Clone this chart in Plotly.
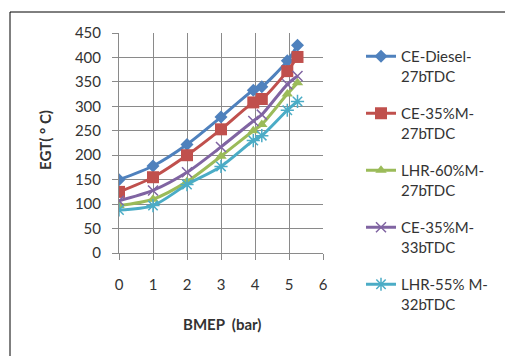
import plotly.graph_objects as go

bmep = [0, 1, 2, 3, 3.95, 4.2, 4.95, 5.25]
ce_diesel_27 = [150, 178, 222, 278, 333, 340, 393, 425]
ce_35m_27 = [125, 155, 200, 253, 308, 315, 372, 401]
lhr_60m_27 = [97, 110, 146, 198, 250, 263, 325, 348]
ce_35m_33 = [107, 128, 165, 217, 270, 283, 345, 362]
lhr_55m_32 = [88, 97, 140, 177, 230, 240, 292, 310]

names = ["CE-Diesel-<br>27bTDC", "CE-35%M-<br>27bTDC", "LHR-60%M-<br>27bTDC",
         "CE-35%M-<br>33bTDC", "LHR-55% M-<br>32bTDC"]
series = [ce_diesel_27, ce_35m_27, lhr_60m_27, ce_35m_33, lhr_55m_32]
colors = ["#4F81BD", "#C0504D", "#9BBB59", "#8064A2", "#4BACC6"]
symbols = ["diamond", "square", "triangle-up", "x-thin-open", "asterisk-open"]
sizes = [10, 12, 10, 10, 11]

W, H = 505, 356
L, R, T, B = 119, 182, 33, 103
pw, ph = W - L - R, H - T - B

def px(x):
    return (x - L) / pw

def py(y):
    return (H - B - y) / ph

fig = go.Figure()
for i, (nm, ys) in enumerate(zip(names, series)):
    thin = symbols[i].endswith("open")
    fig.add_trace(go.Scatter(
        x=bmep, y=ys, name=nm, mode="lines+markers", legendgroup=str(i),
        line=dict(color=colors[i], width=3, shape="spline", smoothing=0.8),
        marker=dict(symbol=symbols[i], size=sizes[i], color=colors[i],
                    line=dict(color=colors[i], width=1.5 if thin else 0)),
    ))

font = "Lato, 'Open Sans', sans-serif"
txt = "#333333"
fig.update_layout(
    width=W, height=H,
    margin=dict(l=L, r=R, t=T, b=B, autoexpand=False),
    paper_bgcolor="white", plot_bgcolor="white",
    font=dict(family=font, size=15, color=txt),
    showlegend=True,
    legend=dict(x=px(361), y=py(40), xanchor="left", yanchor="top",
                font=dict(size=15, color=txt), valign="top",
                tracegroupgap=15, bgcolor="rgba(0,0,0,0)", maxheight=400),
    xaxis=dict(range=[0, 6], dtick=1, tick0=0, showgrid=True, gridcolor="#8a8a8a",
               gridwidth=1, showline=True, linecolor="#8a8a8a", ticks="outside",
               ticklen=6, tickcolor="#8a8a8a", zeroline=False,
               tickfont=dict(size=15), ticklabelstandoff=12),
    yaxis=dict(range=[0, 450], dtick=50, tick0=0, showgrid=True, gridcolor="#8a8a8a",
               gridwidth=1, showline=True, linecolor="#8a8a8a", ticks="outside",
               ticklen=6, tickcolor="#8a8a8a", zeroline=False,
               tickfont=dict(size=15), ticklabelstandoff=8),
    annotations=[
        dict(text="<b>EGT( ° C)</b>", xref="paper", yref="paper", x=px(45), y=py(140),
             xanchor="center", yanchor="middle",
             showarrow=False, textangle=-90, font=dict(size=15, color=txt)),
        dict(text="<b>BMEP  (bar)</b>", xref="paper", yref="paper", x=px(222), y=py(324),
             xanchor="center", yanchor="middle",
             showarrow=False, font=dict(size=15, color=txt)),
    ],
    shapes=[
        dict(type="line", xref="paper", yref="paper", x0=px(10), x1=px(10),
             y0=py(12), y1=py(H + 5), line=dict(color="#000000", width=1)),
        dict(type="line", xref="paper", yref="paper", x0=px(10), x1=px(W + 5),
             y0=py(12), y1=py(12), line=dict(color="#000000", width=1)),
    ],
)
fig.write_html("out.html")
